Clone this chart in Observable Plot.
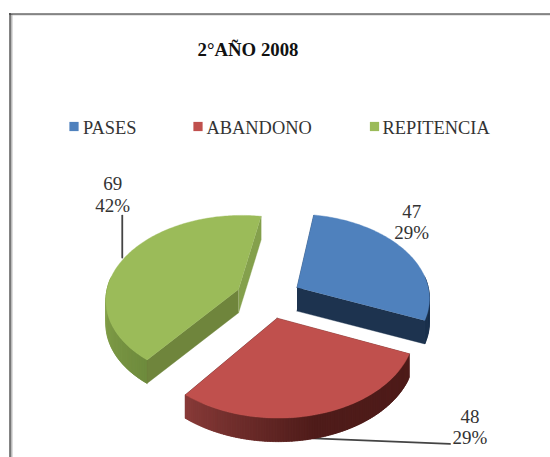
<!DOCTYPE html>
<html>
<head>
<meta charset="utf-8">
<script src="https://cdn.jsdelivr.net/npm/d3@7"></script>
<script src="https://cdn.jsdelivr.net/npm/@observablehq/plot@0.6"></script>
<style>
html,body{margin:0;padding:0;background:#fff;overflow:hidden}
svg{display:block}
</style>
</head>
<body>
<div id="chart"></div>
<script>
// Data
const title = "2°AÑO 2008";
const categories = ["PASES", "ABANDONO", "REPITENCIA"];
const counts = [47, 48, 69];
const percents = ["29%", "29%", "42%"];

// Style
const topColors = ["#4f81bd", "#c0504d", "#9bbb59"];
const faceColors = [["#1d334f", "#1d334f"], ["#4f1c1a", "#4f1c1a"], ["#6f853c", "#84a04c"]];
const wallRamps = [["#1d334f", "#1d334f"], ["#4f1c1a", "#8a3c3a"], ["#6d8a3c", "#8aa64e"]];
const legendX = [73.5, 197.5, 374];
const legendTextX = [82.5, 206, 382];
const labelOffset = [[7, -28.5], [153, 12], [-12, -63.5]];
const leaderOffset = [null, [[-3, 0.5], [133, 6]], [[-2.4, 0], [-2.4, -42]]];

// Camera
const W = 550, H = 457;
const cx = 268, cy = 297, R = 133, explode = 33, depth = 23.5;
const sinE = 0.63, persp = 0.00084, startDeg = 9.5;
const rad = d => d * Math.PI / 180;
const project = (X, Y, drop = 0) => {
  const w = 1 + Y * persp;
  return {x: cx + X / w, y: cy - Y * sinE / w + drop};
};

const total = d3.sum(counts);
let acc = startDeg;
const slices = categories.map((name, i) => {
  const a0 = acc, a1 = acc + counts[i] / total * 360;
  acc = a1;
  const mid = (a0 + a1) / 2;
  const ox = explode * Math.sin(rad(mid)), oy = explode * Math.cos(rad(mid));
  const rim = (a, drop = 0) => project(ox + R * Math.sin(rad(a)), oy + R * Math.cos(rad(a)), drop);
  return {name, i, a0, a1, mid, apex: d => project(ox, oy, d), rim};
});

// Polygons
const polys = [];
const push = (key, shade, pts) => pts.forEach(p => polys.push({key, shade, x: p.x, y: p.y}));
[2, 0, 1].forEach(k => {
  const s = slices[k];
  // radial cut faces
  push(`face0-${k}`, faceColors[k][0], [s.apex(0), s.rim(s.a0), s.rim(s.a0, depth), s.apex(depth)]);
  push(`face1-${k}`, faceColors[k][k === 2 ? 1 : 0], [s.apex(0), s.rim(s.a1), s.rim(s.a1, depth), s.apex(depth)]);
  // outer wall as shaded, overlapping strips so no seams show
  const ramp = d3.interpolateRgb(wallRamps[k][0], wallRamps[k][1]);
  const steps = d3.range(s.a0, s.a1, 1).concat(s.a1);
  const order = k === 2 ? d3.pairs(steps) : d3.pairs(steps).reverse();
  order.forEach(([a, b], j) => {
    if (Math.cos(rad((a + b) / 2)) > 0.15) return;
    const t = k === 1 ? Math.max(0, ((a + b) / 2 - 165) / (s.a1 - 165)) : (((a + b) / 2 - s.a0) / 60);
    const a2 = k === 2 ? Math.max(s.a0, a - 1.5) : a;
    const b2 = k === 2 ? b : Math.min(s.a1, b + 1.5);
    const arc = [a2, (a2 + b2) / 2, b2];
    push(`wall-${k}-${j}`, ramp(Math.min(1, t)), [...arc.map(x => s.rim(x)), ...arc.reverse().map(x => s.rim(x, depth))]);
  });
  // top surface
  const arc = d3.range(s.a0, s.a1, 1).concat(s.a1).map(a => s.rim(a));
  push(`top-${k}`, topColors[k], [s.apex(0), ...arc]);
});

const labels = slices.map((s, i) => {
  const p = s.rim(s.mid);
  return {x: p.x + labelOffset[i][0], y: p.y + labelOffset[i][1], text: `${counts[i]}\n${percents[i]}`};
});
const leaders = slices.flatMap((s, i) => {
  if (!leaderOffset[i]) return [];
  const p = s.rim(s.mid, i === 1 ? depth : 0);
  return leaderOffset[i].map(o => ({key: i, x: p.x + o[0], y: p.y + o[1]}));
});
const legend = categories.map((name, i) => ({name, x: legendX[i], tx: legendTextX[i], shade: topColors[i]}));

const chart = Plot.plot({
  width: W, height: H,
  margin: 0,
  x: {domain: [0, W], range: [0, W], axis: null},
  y: {domain: [0, H], range: [0, H], axis: null},
  color: {type: "identity"},
  style: {background: "#fff"},
  marks: [
    // chart frame
    Plot.ruleY([14.5], {x1: 10, x2: W, stroke: "#ccc", strokeWidth: 1}),
    Plot.ruleX([11], {y1: 14, y2: H, stroke: "#bbb", strokeWidth: 2}),
    Plot.ruleY([13.5], {x1: 9, x2: W, stroke: "#222", strokeWidth: 1.2}),
    Plot.ruleX([9.5], {y1: 13, y2: H, stroke: "#333", strokeWidth: 1.2}),
    // leaders under the pie
    Plot.line(leaders, {x: "x", y: "y", z: "key", stroke: "#444", strokeWidth: 1.8}),
    // pie
    Plot.line(polys, {x: "x", y: "y", z: "key", fill: "shade", stroke: "shade", strokeWidth: 0.4}),
    // labels
    Plot.text(labels, {x: "x", y: "y", text: "text", fontFamily: "Liberation Serif", fontSize: 19, lineHeight: 1.12, fill: "#333"}),
    // title
    Plot.text([title], {x: () => 247.5, y: () => 49, fontFamily: "Liberation Serif", fontSize: 18.8, fontWeight: "bold", fill: "#111"}),
    // legend
    Plot.dot(legend, {x: "x", y: () => 126, symbol: "square", r: 5.2, fill: "shade"}),
    Plot.text(legend, {x: "tx", y: () => 127.5, text: "name", textAnchor: "start", fontFamily: "Liberation Serif", fontSize: 18.4, fill: "#333"})
  ]
});
document.getElementById("chart").appendChild(chart);
</script>
</body>
</html>
